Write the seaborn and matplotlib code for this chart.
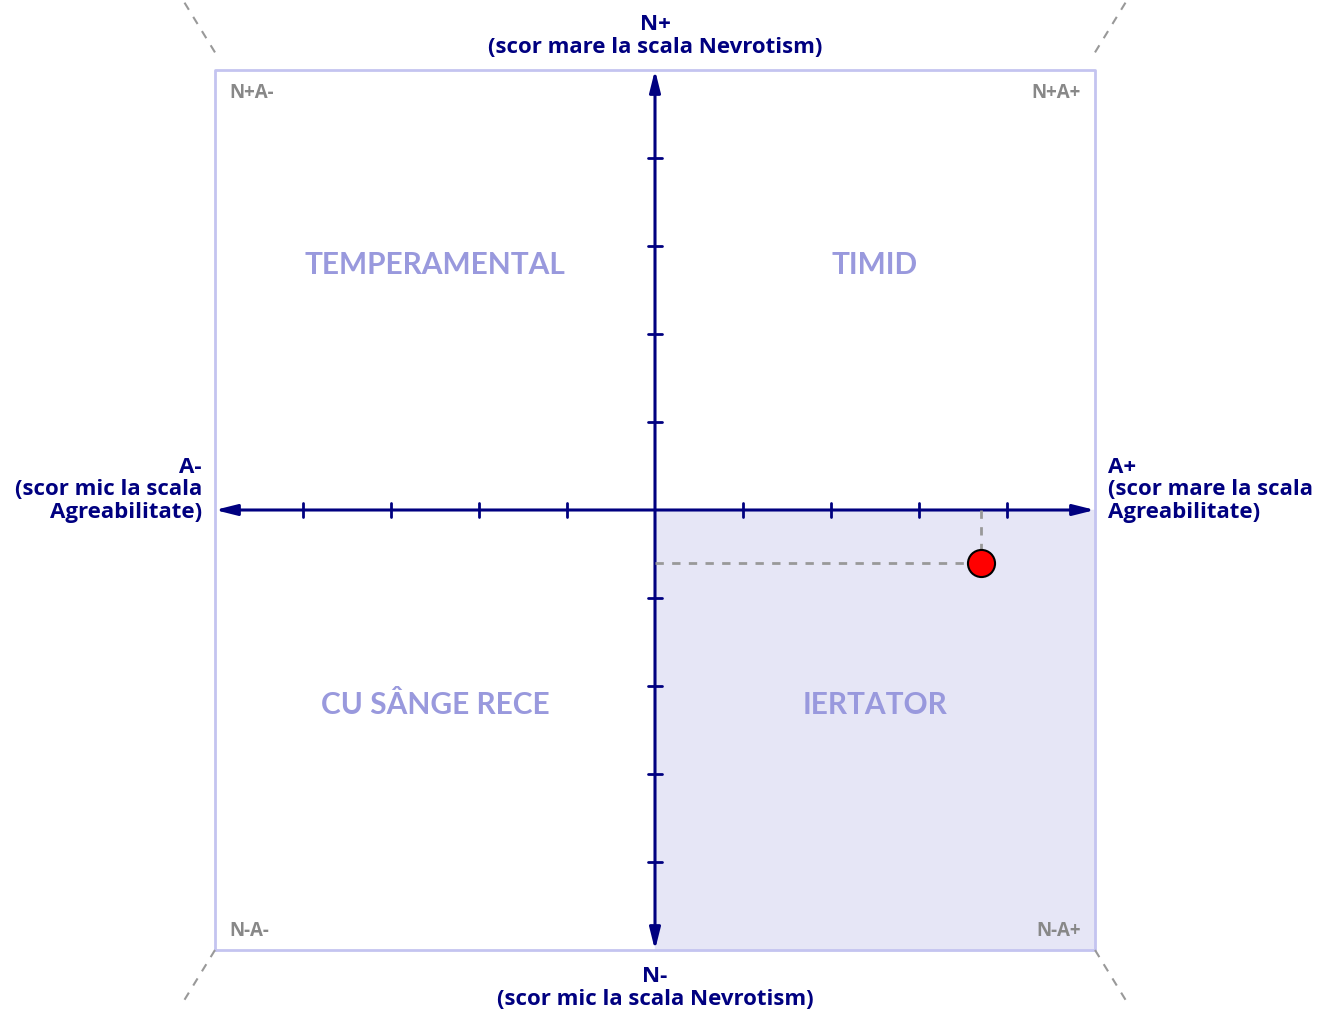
import numpy as np
import pandas as pd
import matplotlib
matplotlib.use("Agg")
import matplotlib.pyplot as plt
import seaborn as sns

# scorul persoanei (Agreabilitate, Nevrotism)
score_a = [3.7]
score_n = [-0.6]

ticks = [-4, -3, -2, -1, 1, 2, 3, 4]
lim = 5

quadrants = ["TEMPERAMENTAL", "TIMID", "CU SÂNGE RECE", "IERTATOR"]
quad_pos = [(-2.5, 2.8), (2.5, 2.8), (-2.5, -2.2), (2.5, -2.2)]
corners = ["N+A-", "N+A+", "N-A-", "N-A+"]

sns.set_style("white")
plt.rcParams['font.family'] = ['Lato', 'DejaVu Sans']
LBL = ['Open Sans', 'DejaVu Sans']

NAVY = "#000080"
fig = plt.figure(figsize=(13.32, 10.12), dpi=100)
ax = fig.add_axes([0, 0, 1, 1])
u = 88.0
ax.set_xlim(-655 / u, (1332 - 655) / u)
ax.set_ylim(-(1012 - 511) / u, 511 / u)
ax.axis("off")

# cadran evidentiat
ax.fill_between([0, lim], -lim, 0, color="#e6e6f6", zorder=0)
ax.plot([-lim, lim, lim, -lim, -lim], [-lim, -lim, lim, lim, -lim],
        color="#c4c4f0", lw=2, zorder=1)

# linii diagonale in colturi
for sx, sy in [(-1, 1), (1, 1), (-1, -1), (1, -1)]:
    x0 = sx * lim
    y0 = sy * (lim + (0.2 if sy > 0 else 0))
    ax.plot([x0, x0 + sx * 0.38], [y0, y0 + sy * 0.62], color="#999999",
            lw=1.5, ls=(0, (4, 4)), zorder=1, clip_on=False)

# axe cu sageti
arrow = dict(arrowstyle="<|-|>,head_width=0.25,head_length=1.0", color=NAVY,
             lw=2.2, mutation_scale=13, shrinkA=0, shrinkB=0)
ax.annotate("", xy=(lim, 0), xytext=(-lim, 0), arrowprops=arrow, zorder=3)
ax.annotate("", xy=(0, lim), xytext=(0, -lim), arrowprops=arrow, zorder=3)
tl = 0.08
for t in ticks:
    ax.plot([t, t], [-tl, tl], color=NAVY, lw=2, zorder=3)
    ax.plot([-tl, tl], [t, t], color=NAVY, lw=2, zorder=3)

# etichete cadrane
for name, (qx, qy) in zip(quadrants, quad_pos):
    ax.text(qx, qy, name, ha="center", va="center", fontsize=21.5,
            fontweight="bold", color="#9999dd", zorder=2)

pad = 0.16
ckw = dict(fontsize=13.5, fontweight="bold", color="#888888", family=LBL, va="center")
ax.text(-lim + pad, lim - 0.25, corners[0], ha="left", **ckw)
ax.text(lim - pad, lim - 0.25, corners[1], ha="right", **ckw)
ax.text(-lim + pad, -lim + 0.23, corners[2], ha="left", **ckw)
ax.text(lim - pad, -lim + 0.23, corners[3], ha="right", **ckw)

# etichete axe
akw = dict(fontsize=16, fontweight="bold", color=NAVY, family=LBL, linespacing=1.1)
ax.text(0, lim + 0.15, "N+\n(scor mare la scala Nevrotism)", ha="center",
        va="bottom", **akw)
ax.text(0, -lim - 0.17, "N-\n(scor mic la scala Nevrotism)", ha="center",
        va="top", **akw)
ax.text(-lim - 0.15, 0.24, "A-\n(scor mic la scala\nAgreabilitate)", ha="right",
        va="center", multialignment="right", **akw)
ax.text(lim + 0.15, 0.24, "A+\n(scor mare la scala\nAgreabilitate)", ha="left",
        va="center", **akw)

# linii ajutatoare si punct
df = pd.DataFrame({"A": score_a, "N": score_n})
ax.plot([0, score_a[0]], [score_n[0], score_n[0]], color="#999999", lw=2,
        ls=(0, (3, 3)), zorder=4)
ax.plot([score_a[0], score_a[0]], [0, score_n[0]], color="#999999", lw=2,
        ls=(0, (3, 3)), zorder=4)
sns.scatterplot(data=df, x="A", y="N", ax=ax, s=380, color="#ff0000",
                edgecolor="black", linewidth=1.5, zorder=5, legend=False)
ax.set_xlabel("")
ax.set_ylabel("")

fig.savefig("out.png", dpi=100)
